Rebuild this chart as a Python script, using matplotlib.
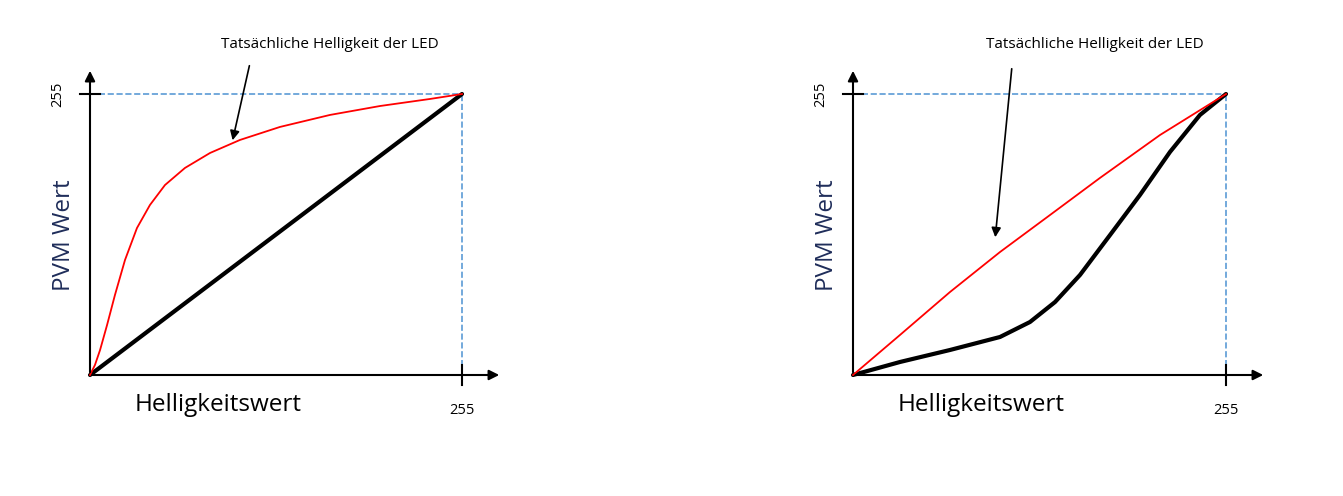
import matplotlib
matplotlib.use("Agg")
import matplotlib.pyplot as plt

plt.rcParams['font.family'] = ['Open Sans', 'DejaVu Sans']

# data (0..255 scale)
left_red_x = [0, 3.4, 6.9, 11.7, 17.1, 24, 32.2, 41.1, 51.4, 65.1, 82.3, 102.8, 130.2, 164.5, 198.8, 233.1, 255]
left_red_y = [0, 9.1, 22.7, 45.4, 72.6, 104.4, 133.4, 154.3, 172.4, 187.9, 201.5, 213.3, 225.1, 236, 244.1, 250.5, 255]
left_black_x = [0, 255]
left_black_y = [0, 255]
right_red_x = [0, 32.1, 66.3, 100.5, 134.7, 168.8, 209.9, 255]
right_red_y = [0, 36.3, 75.3, 111.6, 145.2, 178.8, 217.8, 255]
right_black_x = [0, 32.1, 66.3, 100.5, 121, 138.1, 155.2, 175.7, 196.2, 216.7, 237.2, 255]
right_black_y = [0, 11.8, 22.7, 34.5, 48.1, 66.2, 90.8, 127, 163.4, 202.4, 236, 255]
label_text = "Tatsächliche Helligkeit der LED"

W, H = 1343, 496
fig = plt.figure(figsize=(W/100, H/100), dpi=100)

def panel(x0, x1, rx, ry, bx, by, txt_px, arr_from, arr_to):
    ax = fig.add_axes([x0/W, 1-375/H, (x1-x0)/W, (375-94)/H])
    ax.set_xlim(0, 255); ax.set_ylim(0, 255); ax.axis('off')
    sx = 255/(x1-x0); sy = 255/(375-94)
    px = lambda p: (p-x0)*sx
    py = lambda p: (375-p)*sy
    ax.annotate('', xy=(px(x1+40), 0), xytext=(0, 0),
                arrowprops=dict(arrowstyle='-|>', color='black', lw=1.5, mutation_scale=15), annotation_clip=False)
    ax.annotate('', xy=(0, py(68)), xytext=(0, 0),
                arrowprops=dict(arrowstyle='-|>', color='black', lw=1.5, mutation_scale=15), annotation_clip=False)
    ax.plot([0, 255], [255, 255], ls='--', color='#5b9bd5', lw=1.2, clip_on=False)
    ax.plot([255, 255], [0, 255], ls='--', color='#5b9bd5', lw=1.2, clip_on=False)
    ax.plot([px(x0-10), px(x0+10)], [255, 255], color='black', lw=1.5, clip_on=False)
    ax.plot([255, 255], [py(365), py(385)], color='black', lw=1.5, clip_on=False)
    ax.plot(bx, by, color='black', lw=3, clip_on=False, solid_capstyle='round', solid_joinstyle='round')
    ax.plot(rx, ry, color='red', lw=1.3, clip_on=False, solid_joinstyle='round')
    ax.text(px(x0+128), py(405), 'Helligkeitswert', fontsize=17.5, ha='center', va='center')
    ax.text(px(x0-26), py(235), 'PVM Wert', fontsize=17.5, ha='center', va='center',
            rotation=90, color='#1f2d5a')
    ax.text(px(x0-32), 255, '255', fontsize=10.5, ha='center', va='center', rotation=90)
    ax.text(255, py(410), '255', fontsize=10.5, ha='center', va='center')
    ax.text(px(txt_px[0]), py(txt_px[1]), label_text, fontsize=11, ha='center', va='center')
    ax.annotate('', xy=(px(arr_to[0]), py(arr_to[1])), xytext=(px(arr_from[0]), py(arr_from[1])),
                arrowprops=dict(arrowstyle='-|>', color='black', lw=1.2, mutation_scale=14), annotation_clip=False)

panel(90, 462, left_red_x, left_red_y, left_black_x, left_black_y, (330, 45), (250, 63), (232, 143))
panel(853, 1226, right_red_x, right_red_y, right_black_x, right_black_y, (1095, 45), (1012, 66), (995, 240))

fig.savefig('out.png', dpi=100)
